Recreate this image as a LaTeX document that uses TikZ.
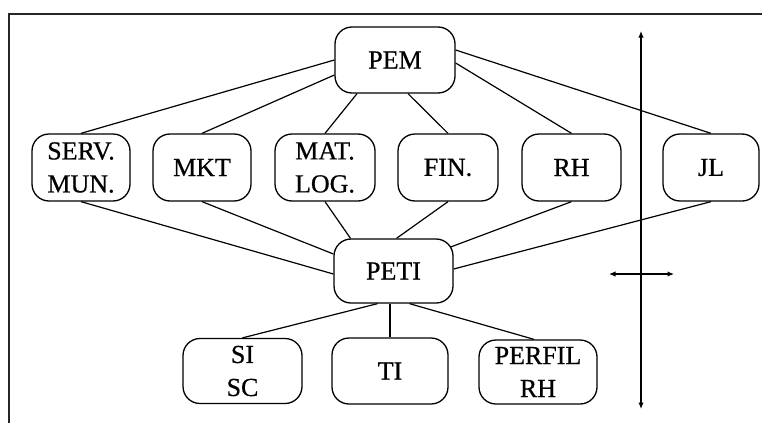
\documentclass[tikz,border=0pt]{standalone}
\usepackage{fontspec}
\setmainfont{Liberation Serif}
\newfontfamily\labelfont{Liberation Serif}[FakeBold=0.6]
\usetikzlibrary{arrows.meta}
\begin{document}
\begin{tikzpicture}[x=1pt,y=-1pt,
  box/.style={draw, line width=1.3pt, rounded corners=17pt, inner sep=0pt, align=center,
    font=\labelfont\fontsize{26}{33}\selectfont},
  link/.style={line width=1.2pt},
  dimarrow/.style={line width=1.2pt, {Latex[length=6.5pt,width=5.5pt]}-{Latex[length=6.5pt,width=5.5pt]}},
  frameline/.style={line width=1.4pt, draw=black!85}]
\useasboundingbox (0,0) rectangle (762,423);
% frame
\coordinate (fr1) at (762,14);
\coordinate (fr2) at (9,14);
\coordinate (fr3) at (9,423);
\draw[frameline] (fr1) -- (fr2) -- (fr3);
% nodes
\node[box, minimum width=120pt, minimum height=66pt] (pem) at (395,60) {PEM};
\node[box, minimum width=98pt, minimum height=67pt] (serv) at (81,167.5) {SERV.\\MUN.};
\node[box, minimum width=98pt, minimum height=67pt] (mkt) at (202,167.5) {MKT};
\node[box, minimum width=100pt, minimum height=67pt] (mat) at (325,167.5) {MAT.\\LOG.};
\node[box, minimum width=100pt, minimum height=67pt] (fin) at (448,167.5) {FIN.};
\node[box, minimum width=99pt, minimum height=67pt] (rh) at (571.5,167.5) {RH};
\node[box, minimum width=96pt, minimum height=67pt] (jl) at (711,167.5) {JL};
\node[box, minimum width=119pt, minimum height=64pt] (peti) at (393.5,271) {PETI};
\node[box, minimum width=119pt, minimum height=65pt] (sisc) at (242.5,371) {SI\\SC};
\node[box, minimum width=116pt, minimum height=66pt] (ti) at (390,371) {TI};
\node[box, minimum width=118pt, minimum height=64pt] (perfil) at (538,372) {PERFIL\\RH};
% PEM links
\draw[link] (pem.west) -- (serv.north);
\draw[link] ([yshift=-15pt]pem.west) -- (mkt.north);
\draw[link] ([xshift=-38pt]pem.south) -- (mat.north);
\draw[link] ([xshift=13pt]pem.south) -- (fin.north);
\draw[link] ([yshift=-3pt]pem.east) -- (rh.north);
\draw[link] ([yshift=10pt]pem.east) -- (jl.north);
% PETI links
\draw[link] (serv.south) -- ([yshift=-3pt]peti.west);
\draw[link] (mkt.south) -- ([yshift=17pt]peti.west);
\draw[link] (mat.south) -- ([xshift=-43pt]peti.north);
\draw[link] (fin.south) -- ([xshift=3pt]peti.north);
\draw[link] (rh.south) -- ([xshift=-3pt,yshift=24pt]peti.east);
\draw[link] (jl.south) -- ([yshift=2pt]peti.east);
% bottom links
\draw[link] ([xshift=-16pt]peti.south) -- (sisc.north);
\draw[link] (ti.north |- peti.south) -- (ti.north);
\draw[link] ([xshift=16pt]peti.south) -- ([xshift=-4pt]perfil.north);
% arrows
\coordinate (vtop) at (641,31);
\coordinate (vbot) at (641,409);
\coordinate (hl) at (609,274);
\coordinate (hr) at (674,274);
\draw[dimarrow] (vtop) -- (vbot);
\draw[dimarrow] (hl) -- (hr);
\end{tikzpicture}
\end{document}
